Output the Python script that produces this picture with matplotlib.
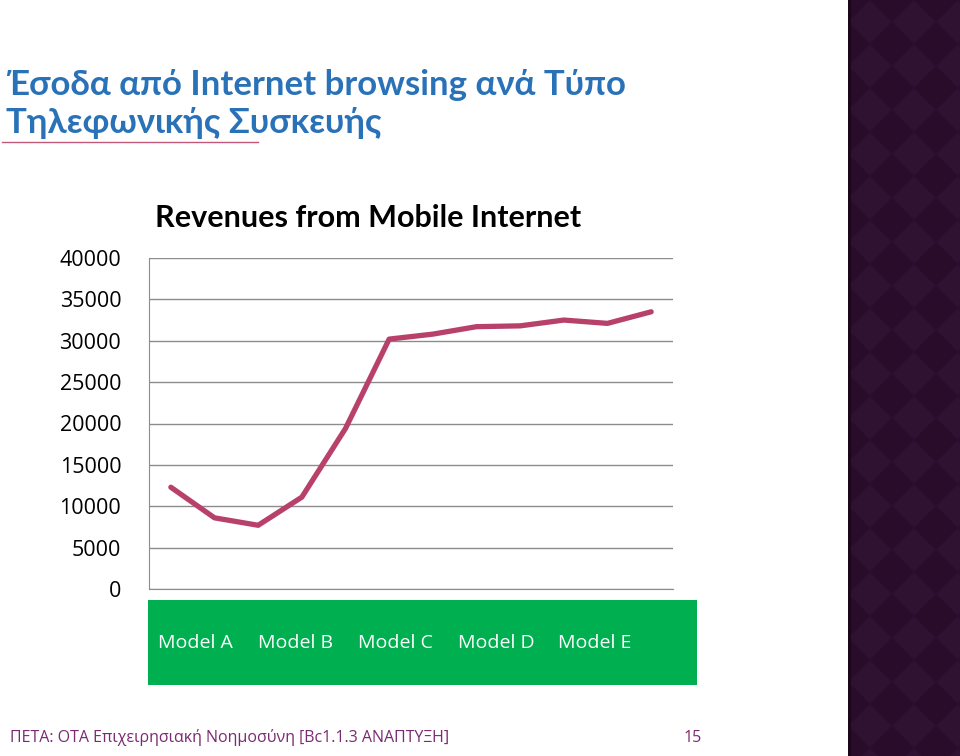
import numpy as np
import matplotlib.pyplot as plt
from matplotlib.patches import Rectangle, Polygon
from matplotlib.lines import Line2D

# data
revenue = [12300, 8600, 7700, 11100, 19400, 30200, 30800, 31700, 31800, 32500, 32100, 33500]
yticks = [0, 5000, 10000, 15000, 20000, 25000, 30000, 35000, 40000]
models = ["Model A", "Model B", "Model C", "Model D", "Model E"]

heading = "Έσοδα από Internet browsing ανά Τύπο\nΤηλεφωνικής Συσκευής"
chart_title = "Revenues from Mobile Internet"
footer = "ΠΕΤΑ: ΟΤΑ Επιχειρησιακή Νοημοσύνη [Bc1.1.3 ΑΝΑΠΤΥΞΗ]"
page = "15"

W, H = 960, 756
fig = plt.figure(figsize=(W / 100, H / 100), dpi=100)
fig.patch.set_facecolor("white")

def fx(px):
    return px / W

def fy(py):
    return 1 - py / H

# right decorative panel, its own axes so the diamonds are clipped
pax = fig.add_axes([fx(848), 0, 1 - fx(848), 1])
pax.set_xlim(0, W - 848)
pax.set_ylim(H, 0)
pax.axis("off")
pax.add_patch(Rectangle((0, 0), W - 848, H, facecolor="#2b0e2c", edgecolor="none"))
step = 44
for i in range(-1, 5):
    for j in range(-1, 38):
        cx = i * step + (step / 2 if j % 2 else 0)
        cy = j * step / 2
        pts = [(cx, cy - step / 2), (cx + step / 2, cy), (cx, cy + step / 2), (cx - step / 2, cy)]
        pax.add_patch(Polygon(pts, closed=True,
                              facecolor="#2f1131" if j % 2 else "#280c29",
                              edgecolor="#2c0f2e", linewidth=0.8))
pax.add_patch(Rectangle((0, 0), 3, H, facecolor="#1c061c", edgecolor="none"))

# heading
fig.text(fx(6), fy(104), heading, color="#2a72b8", fontsize=25, fontweight="bold",
         family="Lato", va="center", ha="left", linespacing=1.25)
fig.lines.append(Line2D([fx(2), fx(258)], [fy(142), fy(142)], transform=fig.transFigure,
                        color="#c0587a", linewidth=1))

# chart
ax = fig.add_axes([fx(149), fy(589), fx(673) - fx(149), fy(258) - fy(589)])
x = np.arange(len(revenue))
ax.plot(x, revenue, color="#b8416c", linewidth=3.8, solid_capstyle="round",
        solid_joinstyle="round", zorder=3)
ax.set_xlim(-0.5, len(revenue) - 0.5)
ax.set_ylim(yticks[0], yticks[-1])
ax.set_yticks(yticks)
ax.set_yticklabels([str(v) for v in yticks], fontsize=15.5, family="Open Sans")
ax.set_xticks([])
ax.tick_params(axis="y", length=0, pad=20)
ax.yaxis.grid(True, color="#8c8c8c", linewidth=1)
ax.set_axisbelow(True)
for s in ["top", "right"]:
    ax.spines[s].set_visible(False)
for s in ["left", "bottom"]:
    ax.spines[s].set_color("#8c8c8c")
ax.set_facecolor("none")

fig.text(fx(155), fy(218), chart_title, fontsize=22, fontweight="bold",
         family="Lato", va="center", ha="left", color="black")

# green label box
fig.patches.append(Rectangle((fx(148), fy(685)), fx(697) - fx(148), fy(600) - fy(685),
                             transform=fig.transFigure, facecolor="#00b050",
                             edgecolor="none", zorder=2))
for k, m in enumerate(models):
    fig.text(fx(158 + 100 * k), fy(643), m, color="white", fontsize=14,
             family="Open Sans", va="center", ha="left", zorder=3)

# footer
fig.text(fx(10), fy(738), footer, color="#7b2a72", fontsize=11.5, family="Open Sans",
         va="center", ha="left")
fig.text(fx(702), fy(738), page, color="#7b2a72", fontsize=11.5, family="Open Sans",
         va="center", ha="right")

fig.savefig("out.png", dpi=100)
